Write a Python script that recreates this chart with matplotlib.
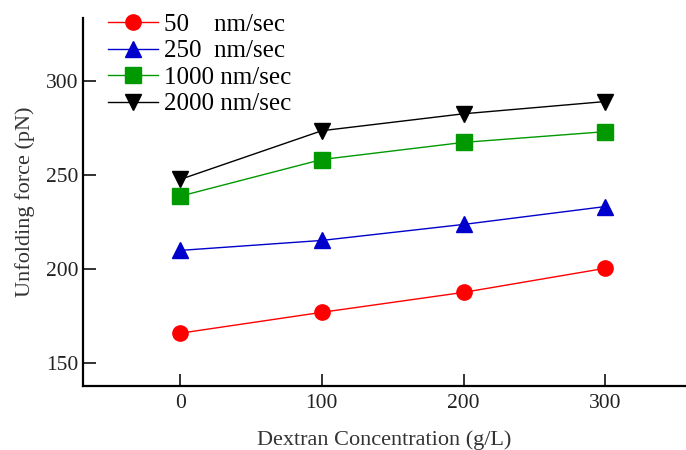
import numpy as np
import matplotlib
matplotlib.use('Agg')
import matplotlib.pyplot as plt

plt.rcParams['font.family'] = ['Liberation Serif', 'DejaVu Serif']

# Data
conc = [0, 100, 200, 300]  # g/L
f_50 = [165.9, 177.0, 187.6, 200.4]
f_250 = [209.9, 215.2, 223.7, 233.2]
f_1000 = [238.7, 258.2, 267.3, 273.0]
f_2000 = [247.6, 273.5, 282.5, 289.0]
labels = ['50    nm/sec', '250  nm/sec', '1000 nm/sec', '2000 nm/sec']

fig = plt.figure(figsize=(6.86, 4.5), dpi=100)
ax = fig.add_axes([0.121, 0.142, 0.879, 0.818])

ax.plot(conc, f_50, '-', color='red', marker='o', ms=11, lw=1, label=labels[0])
ax.plot(conc, f_250, '-', color='#0000cc', marker='^', ms=11, lw=1, label=labels[1])
ax.plot(conc, f_1000, '-', color='#009900', marker='s', ms=11, lw=1, label=labels[2])
ax.plot(conc, f_2000, '-', color='black', marker='v', ms=11, lw=1, label=labels[3])

ax.set_xlim(-68.5, 357)
ax.set_ylim(137.8, 333.4)
ax.set_xticks([0, 100, 200, 300])
ax.set_yticks([150, 200, 250, 300])
ax.tick_params(direction='in', length=9, width=1.3, labelsize=15.5, colors='#222222')
ax.tick_params(axis='x', pad=6)
ax.spines['top'].set_visible(False)
ax.spines['right'].set_visible(False)
ax.spines['left'].set_linewidth(1.6)
ax.spines['bottom'].set_linewidth(1.6)

ax.set_xlabel('Dextran Concentration (g/L)', fontsize=16, color='#333333', labelpad=12)
ax.set_ylabel('Unfolding force (pN)', fontsize=16, color='#333333', labelpad=8)

ax.legend(loc='upper left', bbox_to_anchor=(0.025, 1.04), frameon=False,
          fontsize=18, handlelength=2.0, handletextpad=0.25, labelspacing=0.16,
          borderaxespad=0.0)

fig.savefig('out.png', dpi=100)
